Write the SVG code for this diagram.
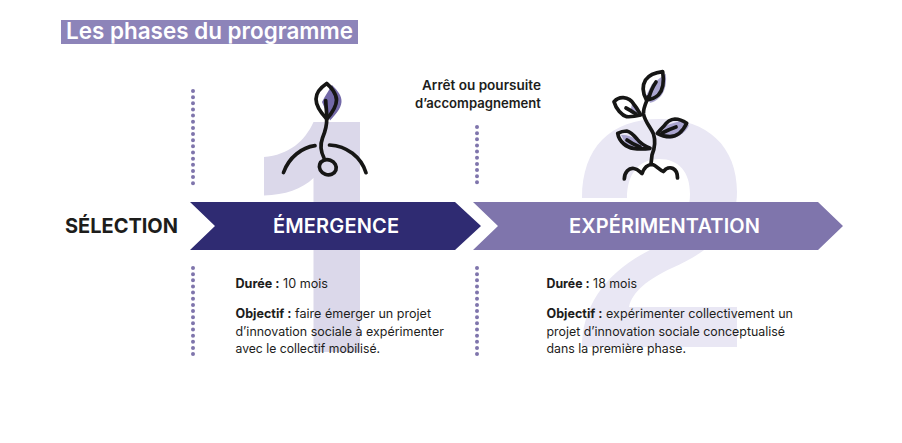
<svg xmlns="http://www.w3.org/2000/svg" width="902" height="443" viewBox="0 0 902 443">
<style>
text{font-family:"Inter","Liberation Sans",sans-serif;fill:#1d1d1b}
.body{font-size:12.700px;font-weight:400}
.b{font-weight:700}
.phase{font-size:20px;font-weight:600;fill:#fff;text-anchor:middle}
.ink{fill:none;stroke:#161615;stroke-width:3.700;stroke-linecap:round;stroke-linejoin:round}
.dots{fill:none;stroke:#7f75ac;stroke-width:4;stroke-linecap:round;stroke-dasharray:0 6.150}
.lp{fill:#aaa5cf}
</style>
<rect width="902" height="443" fill="#fff"/>
<g id="numerals">
<path d="M313.500 122H360V352H313.500V178C302 189 285 195 264 195.500V157C289 155 305 141 313.500 122Z" fill="#dbd8ea"/>
<path d="M582 198C582 148 610 119 660 119C708 119 737 147 737 192C737 228 712 250 672 268C648 279 632 292 629 307H737V347H582C582 306 606 272 650 250C678 236 690 216 690 194C690 172 679 159 659 159C639 159 627 174 627 198Z" fill="#e9e7f4"/>
</g>
<g id="title">
<rect x="61" y="20" width="297" height="24" fill="#8d84b9"/>
<text x="66" y="39" font-size="22.500" font-weight="600" style="fill:#fff" textLength="287" lengthAdjust="spacingAndGlyphs">Les phases du programme</text>
</g>
<g id="connectors">
<line class="dots" x1="193" y1="91" x2="193" y2="186"/>
<line class="dots" x1="193" y1="268" x2="193" y2="360"/>
<line class="dots" x1="477" y1="127" x2="477" y2="186"/>
<line class="dots" x1="477" y1="268" x2="477" y2="360"/>
</g>
<g id="plant-1">
<path d="M332 85C338 91 342 96 341.500 102C341 109 335 115 330 120.500L322 102C325 96 329 90 332 85Z" fill="#7369a8"/>
<path class="ink" d="M326.700 83.500C320 88 316 93 316 99C316 107 322 114 326.700 119C332 113 336.500 106 336.500 100C336.500 94 331 87 326.700 83.500Z"/>
<path class="ink" d="M325.700 100.500C326 108 327 113 326.700 119C327 127 325 132 322.500 138C319.500 146 321 152 324 158"/>
<ellipse class="ink" cx="327.800" cy="167.300" rx="8.600" ry="7.400" transform="rotate(20 327.800 167.300)"/>
<path class="ink" d="M283.500 172.500C289 157 302 147.500 315 145.700"/>
<path class="ink" d="M329.500 145C347 146 361 157 366 172.700"/>
</g>
<g id="plant-2">
<path class="lp" d="M665.700 73.700C667 82 665 92 660 97C656 101 652 103 650 102.700L646 96L652 84Z"/>
<path class="lp" d="M621 135C630 134 638 140 652 150C642 151 633 151 627 146Z"/>
<path class="lp" d="M689 125.500C685 134 676 138 670 138.700C665 138 661 136 659 135L667 125L680 121Z"/>
<path class="lp" d="M632 104C636 108 640 112 642 116L630 113Z"/>
<path class="ink" d="M662.700 71.700C656 72.500 649 75 645.500 80C642.500 85 642 92 646.500 100C651 99.500 655 98 658.300 95C662 91 664.500 83 662.700 71.700Z"/>
<path class="ink" d="M614 101.700C617 98.500 620 97.500 623.300 97.700C628 98 632 101 634 104.500C637 108 639 112 640.700 115C635 116.500 631 117 626.700 116.700C622 115.500 616 109 614 101.700Z"/>
<path class="ink" d="M686.700 123.300C682 120 678 119 675 119C670 119.500 666 123 664 126C661 129 659 131 657.300 133.300C661 135.500 666 136.700 670 136.700C677 136.500 683 131 686.700 123.300Z"/>
<path class="ink" d="M617.700 133.300C621 131.500 624 131 626.700 131C631 132 634.500 136 637 139C640 143 645 146 650 148.300C644 149 638 149 633.300 148.300C627 147.500 619 142 617.700 133.300Z"/>
<path class="ink" d="M648.300 97C646 103 643 108 643.500 114C645 122 651 128 653.500 134C656 142 654 150 652 155L651 164"/>
<path class="ink" d="M626 108C630 110 633 112 636 114"/>
<path class="ink" d="M627 140C631 143 635 145 640 147"/>
<path class="ink" d="M676 127C670 129 666 131 662 133"/>
<path class="ink" d="M656 82C652 88 650 93 649 98"/>
<path class="ink" d="M624.300 179C624.500 172 629 167.500 634 168.500C638 169 640 172 642 173.500C644 168 648 164.500 652 164.500C656 165 659 170 663.500 171.500C666 168 670 167 673 168.500C676 170 677.500 174 677.500 178"/>
</g>
<g id="selection">
<text x="65" y="233" font-size="20" font-weight="700" textLength="113">SÉLECTION</text>
</g>
<g id="note">
<text x="481.500" y="90" font-size="13" font-weight="600" text-anchor="middle" textLength="119" lengthAdjust="spacingAndGlyphs">Arrêt ou poursuite</text>
<text x="478" y="108" font-size="13" font-weight="600" text-anchor="middle" textLength="126" lengthAdjust="spacingAndGlyphs">d’accompagnement</text>
</g>
<g id="emergence">
<path d="M190 202H455L481 226L455 250H190L215 226Z" fill="#2f2b72"/>
<text class="phase" x="336" y="233" textLength="126">ÉMERGENCE</text>
<text class="body" x="235.500" y="288" textLength="92.500" lengthAdjust="spacingAndGlyphs"><tspan class="b">Durée :</tspan> 10 mois</text>
<text class="body" x="235.500" y="318" textLength="195.500" lengthAdjust="spacingAndGlyphs"><tspan class="b">Objectif :</tspan> faire émerger un projet</text>
<text class="body" x="235.500" y="335.500" textLength="208.500" lengthAdjust="spacingAndGlyphs">d’innovation sociale à expérimenter</text>
<text class="body" x="235.500" y="353" textLength="144.500" lengthAdjust="spacingAndGlyphs">avec le collectif mobilisé.</text>
</g>
<g id="experimentation">
<path d="M473 202H818L843 226L818 250H473L498 226Z" fill="#7f75ac"/>
<text class="phase" x="664.500" y="233" textLength="191">EXPÉRIMENTATION</text>
<text class="body" x="546.500" y="288" textLength="90.500" lengthAdjust="spacingAndGlyphs"><tspan class="b">Durée :</tspan> 18 mois</text>
<text class="body" x="546.500" y="318" textLength="246.500" lengthAdjust="spacingAndGlyphs"><tspan class="b">Objectif :</tspan> expérimenter collectivement un</text>
<text class="body" x="546.500" y="335.500" textLength="238.500" lengthAdjust="spacingAndGlyphs">projet d’innovation sociale conceptualisé</text>
<text class="body" x="546.500" y="353" textLength="139.500" lengthAdjust="spacingAndGlyphs">dans la première phase.</text>
</g>
</svg>
